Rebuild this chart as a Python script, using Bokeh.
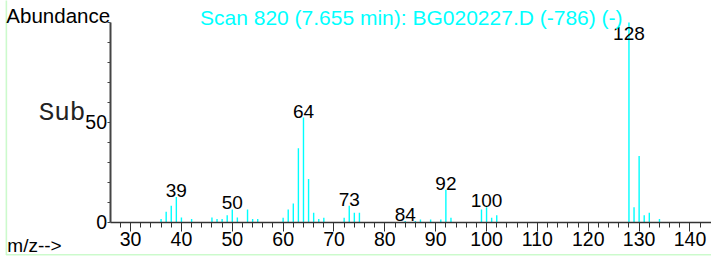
from bokeh.plotting import figure
from bokeh.models import Range1d, FixedTicker, Label, BoxAnnotation, ColumnDataSource
from bokeh.core.properties import value
from bokeh.embed import file_html
from bokeh.resources import INLINE

# ---- data ----
mz = [36, 37, 38, 39, 40, 42, 46, 47, 48, 49, 50, 51, 53, 54, 55,
      60, 61, 62, 63, 64, 65, 66, 67, 68, 72, 73, 74, 75,
      84, 86, 87, 89, 91, 92, 93, 99, 100, 101, 102,
      128, 129, 130, 131, 132, 134]
abundance = [1.6, 5.2, 8.3, 12.6, 2.4, 1.6, 2.4, 1.6, 1.6, 3.5, 6.4, 2.4, 6.4, 1.6, 1.6,
             2.2, 6.3, 9.4, 37.1, 52.4, 21.7, 4.7, 1.6, 2.2, 2.2, 8.3, 4.7, 4.7,
             0.6, 0.6, 1.4, 1.4, 1.4, 16.2, 2.2, 6.4, 7.5, 2.2, 3.5,
             100, 7.5, 33.2, 3.5, 4.7, 1.6]
labeled_mz = [39, 50, 64, 73, 84, 92, 100, 128]
x_ticks = [30, 40, 50, 60, 70, 80, 90, 100, 110, 120, 130, 140]
x_minor_ticks = list(range(28, 144, 2))
y_ticks = [0, 50]
y_minor_ticks = [10, 20, 30, 40, 60, 70, 80, 90, 100]
title_text = "Scan 820 (7.655 min): BG020227.D (-786) (-)"

# ---- layout: positions expressed in reference-picture pixels ----
W, H = 711, 257
REF_W, REF_H = 727, 273
PX_PER_MZ = 5.2      # reference px per m/z unit
MZ_AT_133 = 30       # m/z 30 sits at reference x = 133
PX_PER_PCT = 2.12    # reference px per abundance unit
ZERO_Y = 235.5       # abundance 0 at reference y
FONT = "Liberation Sans"
CYAN = "#00FFFF"
GREEN = "#55EE55"
AXIS = "#333333"


def mx(ref_x):
    return MZ_AT_133 + (ref_x - 133) / PX_PER_MZ


def vy(ref_y):
    return (ZERO_Y - ref_y) / PX_PER_PCT


p = figure(width=W, height=H, output_backend="svg", toolbar_location=None,
           x_range=Range1d(mx(0), mx(REF_W)), y_range=Range1d(vy(REF_H), vy(0)),
           min_border_left=0, min_border_right=0, min_border_top=0, min_border_bottom=0)
p.outline_line_color = None
p.grid.visible = False
p.background_fill_color = "white"
p.border_fill_color = "white"

x_axis_start = mx(112)

xa = p.xaxis[0]
xa.fixed_location = 0
xa.bounds = (x_axis_start, mx(REF_W))
xa.ticker = FixedTicker(ticks=x_ticks, minor_ticks=x_minor_ticks)
xa.major_tick_out = 9
xa.major_tick_in = 0
xa.minor_tick_out = 5
xa.minor_tick_in = 0
xa.axis_line_color = AXIS
xa.axis_line_width = 1.5
xa.major_tick_line_color = AXIS
xa.minor_tick_line_color = AXIS
xa.major_label_text_font = FONT
xa.major_label_text_font_size = "19.5px"
xa.major_label_text_color = "black"
xa.major_label_standoff = 1

ya = p.yaxis[0]
ya.fixed_location = x_axis_start
ya.bounds = (0, 100)
ya.ticker = FixedTicker(ticks=y_ticks, minor_ticks=y_minor_ticks)
ya.major_tick_out = 3
ya.major_tick_in = 0
ya.minor_tick_out = 3
ya.minor_tick_in = 0
ya.axis_line_color = "#444444"
ya.axis_line_width = 2
ya.major_tick_line_color = "#444444"
ya.minor_tick_line_color = "#444444"
ya.major_label_text_font = FONT
ya.major_label_text_font_size = "19.5px"
ya.major_label_text_color = "black"
ya.major_label_standoff = 0

# bars
p.segment(x0=mz, y0=[0] * len(mz), x1=mz, y1=abundance,
          line_color=CYAN, line_width=1.4)

# peak labels (the 128 label is kept inside the plotted range)
lab_y = [min(abundance[mz.index(m)], vy(42)) for m in labeled_mz]
src = ColumnDataSource(dict(x=labeled_mz, y=lab_y, t=[str(m) for m in labeled_mz]))
p.text(x="x", y="y", text="t", source=src, text_align="center", text_baseline="bottom",
       text_font=value(FONT), text_font_size="19px", text_color="black")

# surrounding texts
p.add_layout(Label(x=mx(6), y=vy(16), text="Abundance", text_baseline="alphabetic",
                   text_align="left", text_font=FONT, text_font_size="20.5px", text_color="black"))
p.add_layout(Label(x=mx(204), y=vy(18.5), text=title_text, text_baseline="alphabetic",
                   text_align="left", text_font=FONT, text_font_size="21px", text_color=CYAN))
p.add_layout(Label(x=mx(39), y=vy(119), text="Sub", text_baseline="alphabetic",
                   text_align="left", text_font="Liberation Mono", text_font_size="26px",
                   text_color="#222222"))
p.add_layout(Label(x=mx(7), y=vy(260), text="m/z-->", text_baseline="alphabetic",
                   text_align="left", text_font=FONT, text_font_size="19px", text_color="black"))

# green frame: only its left and bottom edges fall inside the picture
p.add_layout(BoxAnnotation(left=mx(6), right=mx(REF_W + 40), bottom=vy(270), top=vy(-40),
                           fill_color=None, line_color=GREEN, line_width=1.6))

open("out.html", "w").write(file_html(p, INLINE))
